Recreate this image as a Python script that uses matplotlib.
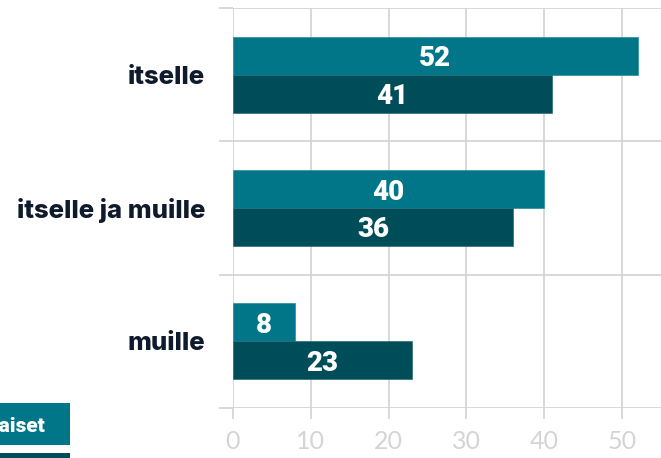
import matplotlib
matplotlib.use("Agg")
import matplotlib.pyplot as plt
from matplotlib.patches import Rectangle
import numpy as np

categories = ["itselle", "itselle ja muille", "muille"]
series_names = ["Naiset", "Miehet"]
naiset = [52, 40, 8]
miehet = [41, 36, 23]
xticks = [0, 10, 20, 30, 40, 50]

c_teal = "#007688"
c_dark = "#004d5a"
grid_c = "#d2d2d2"
label_c = "#0f1a2c"

fig = plt.figure(figsize=(6.61, 4.58), dpi=100)
ax = fig.add_axes([233/661, 50/458, 1 - 233/661, 400/458])

y = np.arange(len(categories))
h = 0.285
ax.barh(y - h/2, naiset, height=h, color=c_teal, edgecolor="#2a8c9a", linewidth=0.5, zorder=3)
ax.barh(y + h/2, miehet, height=h, color=c_dark, edgecolor="#2a6d78", linewidth=0.5, zorder=3)

for i in range(len(categories)):
    ax.text(naiset[i]/2, y[i] - h/2, str(naiset[i]), ha="center", va="center_baseline",
            color="white", fontsize=20, fontweight="black", family="Roboto", zorder=4)
    ax.text(miehet[i]/2, y[i] + h/2, str(miehet[i]), ha="center", va="center_baseline",
            color="white", fontsize=20, fontweight="black", family="Roboto", zorder=4)

ax.set_xlim(0, 55)
ax.set_ylim(len(categories) - 0.5, -0.5)

for s in ax.spines.values():
    s.set_visible(False)

ax.set_xticks(xticks)
ax.set_xticklabels([str(t) for t in xticks])
ax.tick_params(axis="x", length=8, width=1.2, color=grid_c, labelcolor="#d4d4d4",
               labelsize=18, pad=8)
for lab in ax.get_xticklabels():
    lab.set_family("Lato")
ax.xaxis.grid(True, color=grid_c, linewidth=1.2, zorder=0)

ax.set_yticks(y)
ax.set_yticklabels(categories)
ax.tick_params(axis="y", which="major", length=0, pad=20, labelsize=18.5, labelcolor=label_c)
for lab in ax.get_yticklabels():
    lab.set_family("Inter")
    lab.set_fontweight("heavy")
ax.set_yticks(np.arange(len(categories) + 1) - 0.5, minor=True)
ax.tick_params(axis="y", which="minor", length=10, width=1.2, color=grid_c)
ax.yaxis.grid(True, which="minor", color=grid_c, linewidth=1.2, zorder=0)
ax.yaxis.grid(False, which="major")
ax.set_axisbelow(True)

# legend as colored boxes (partially outside the canvas, as in the reference)
bh = 42/458
fig.patches.append(Rectangle((-30/661, 13/458), 100/661, bh, transform=fig.transFigure,
                             facecolor=c_teal, edgecolor="none"))
fig.text(46/661, 34/458, series_names[0], ha="right", va="center_baseline", color="white",
         fontsize=15, fontweight="black", family="Roboto")
fig.patches.append(Rectangle((-30/661, -37/458), 100/661, bh, transform=fig.transFigure,
                             facecolor=c_dark, edgecolor="none"))
fig.text(46/661, -16/458, series_names[1], ha="right", va="center_baseline", color="white",
         fontsize=15, fontweight="black", family="Roboto")

fig.savefig("out.png", dpi=100)
